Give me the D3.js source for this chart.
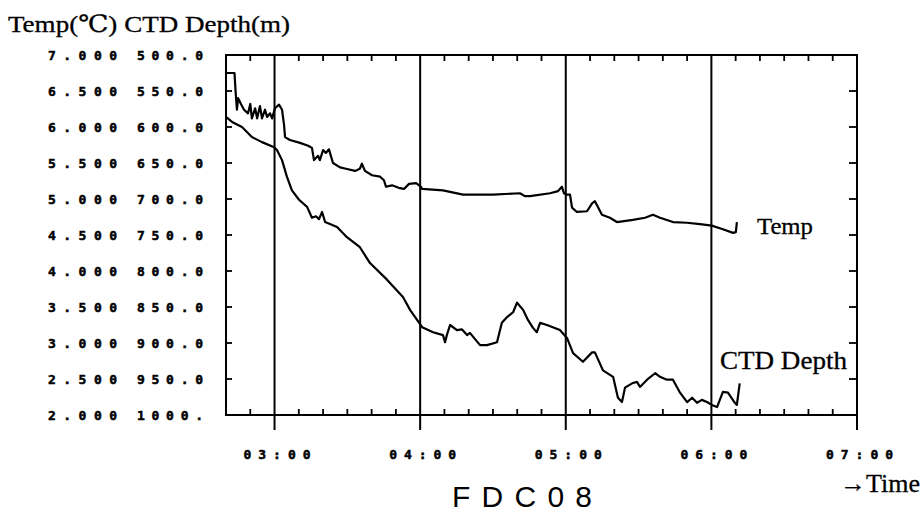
<!DOCTYPE html>
<html>
<head>
<meta charset="utf-8">
<script src="https://cdn.jsdelivr.net/npm/d3@7"></script>
<style>
  body { margin: 0; background: #fff; }
  .dot { font-family: "DejaVu Sans Mono", monospace; font-weight: bold; font-size: 13px; fill: #000; stroke: #000; stroke-width: 0.5px; }
  .serif { font-family: "Liberation Serif", "DejaVu Serif", serif; fill: #000; stroke: #000; stroke-width: 0.3px; }
</style>
</head>
<body>
<svg id="chart" width="923" height="513"></svg>
<script>
// time of each reading (hh:mm:ss) and values
const tempTime = ["02:40:00","02:43:30","02:44:00","02:44:30","02:45:00","02:46:10","02:47:25","02:49:05","02:50:00","02:50:40",
  "02:52:00","02:52:50","02:54:00","02:54:50","02:56:05","02:56:55","02:58:10","02:59:00","03:00:10","03:01:50",
  "03:03:05","03:03:55","03:04:20","03:06:20","03:10:30","03:13:50","03:15:25","03:16:15","03:17:55","03:18:40",
  "03:20:00","03:21:10","03:22:25","03:24:05","03:27:00","03:29:25","03:33:10","03:35:10","03:36:00","03:37:15",
  "03:40:10","03:43:30","03:45:05","03:45:55","03:48:25","03:51:40","03:53:20","03:55:25","03:58:20","04:00:20",
  "04:00:50","04:09:25","04:17:40","04:30:00","04:41:05","04:43:10","04:45:15","04:53:30","04:56:50","04:58:25",
  "04:59:15","05:00:30","05:01:45","05:02:35","05:04:35","05:08:45","05:10:50","05:12:00","05:13:15","05:14:55",
  "05:18:10","05:21:05","05:27:40","05:32:40","05:35:55","05:38:50","05:44:10","05:49:55","05:55:20","06:00:10",
  "06:04:45","06:08:55","06:10:05","06:10:30"];
const tempValue = [6.75,6.75,6.47,6.24,6.40,6.32,6.24,6.19,6.32,6.12,
  6.26,6.12,6.29,6.12,6.24,6.14,6.19,6.12,6.26,6.31,
  6.24,6.03,5.86,5.82,5.78,5.74,5.71,5.54,5.60,5.54,
  5.68,5.64,5.69,5.50,5.44,5.42,5.39,5.42,5.49,5.39,
  5.33,5.31,5.26,5.17,5.19,5.15,5.14,5.21,5.22,5.17,
  5.14,5.12,5.06,5.06,5.08,5.04,5.04,5.08,5.11,5.17,
  5.08,5.06,5.06,4.88,4.82,4.83,4.94,4.97,4.89,4.78,
  4.74,4.68,4.71,4.74,4.78,4.74,4.68,4.67,4.65,4.63,
  4.58,4.53,4.54,4.68];

const depthTime = ["02:40:00","02:42:30","02:46:35","02:50:40","02:54:50","02:59:50","03:01:00","03:03:05","03:05:05","03:07:10",
  "03:10:05","03:13:25","03:15:25","03:17:05","03:18:20","03:19:35","03:20:50","03:25:45","03:29:50","03:35:10",
  "03:39:20","03:46:20","03:52:55","03:55:50","04:00:50","04:05:20","04:09:25","04:10:15","04:11:05","04:12:20",
  "04:15:10","04:17:10","04:19:20","04:20:30","04:24:40","04:27:30","04:31:40","04:33:40","04:35:50","04:38:20",
  "04:39:55","04:42:25","04:44:25","04:46:30","04:48:05","04:49:25","04:52:15","04:54:40","04:57:35","05:00:30",
  "05:03:00","05:07:05","05:10:50","05:12:00","05:15:20","05:19:30","05:21:30","05:23:10","05:24:25","05:27:20",
  "05:29:20","05:30:35","05:33:30","05:36:50","05:38:50","05:41:40","05:44:10","05:47:05","05:50:00","05:52:05",
  "05:54:05","05:56:05","05:58:10","06:00:10","06:02:20","06:04:45","06:06:50","06:09:40","06:10:30","06:11:40"];
const depthValue = [586,593,600,614,621,628,632,646,669,688,
  701,711,726,724,728,718,732,739,753,767,
  789,812,836,854,878,885,889,899,888,875,
  882,881,889,886,903,903,899,872,864,857,
  844,854,868,879,885,872,875,878,882,893,
  914,926,913,913,938,947,976,982,962,956,
  954,961,951,942,947,951,951,969,982,976,
  983,979,982,986,989,968,969,983,986,956];

const tempTicks = [7.0, 6.5, 6.0, 5.5, 5.0, 4.5, 4.0, 3.5, 3.0, 2.5, 2.0];
const depthTicks = [500, 550, 600, 650, 700, 750, 800, 850, 900, 950, 1000];
const hourTicks = ["03:00", "04:00", "05:00", "06:00", "07:00"];

const parseTime = d3.timeParse("%H:%M:%S");
const parseHour = d3.timeParse("%H:%M");

const svg = d3.select("#chart");
const plotLeft = 226, plotRight = 857, plotTop = 55, plotBottom = 415;

const x = d3.scaleTime().domain([parseHour("02:40"), parseHour("07:00")]).range([plotLeft, plotRight]);
const yTemp = d3.scaleLinear().domain([2, 7]).range([plotBottom, plotTop]);
const yDepth = d3.scaleLinear().domain([500, 1000]).range([plotTop, plotBottom]);

// title
svg.append("text").attr("class", "serif").attr("x", 8).attr("y", 32)
    .attr("font-size", 24).attr("textLength", 282).attr("lengthAdjust", "spacingAndGlyphs")
    .text("Temp(℃) CTD Depth(m)");

// y labels, two columns
tempTicks.forEach((v, i) => {
    svg.append("text").attr("class", "dot").attr("x", 48).attr("y", yTemp(v))
        .attr("dy", "0.35em").attr("textLength", 69).attr("lengthAdjust", "spacing")
        .text(v.toFixed(3));
    const d = depthTicks[i];
    svg.append("text").attr("class", "dot").attr("x", 137).attr("y", yDepth(d))
        .attr("dy", "0.35em").attr("textLength", 66).attr("lengthAdjust", "spacing")
        .text(d >= 1000 ? d + "." : d.toFixed(1));
});

// minor ticks every 10 minutes on top and bottom
const minor = d3.timeMinute.every(10).range(parseHour("02:41"), parseHour("07:00"))
    .filter(t => t.getMinutes() !== 0);
minor.forEach(t => {
    svg.append("line").attr("x1", x(t)).attr("x2", x(t)).attr("y1", plotTop).attr("y2", plotTop + 6)
        .attr("stroke", "#000").attr("stroke-width", 1.8);
    svg.append("line").attr("x1", x(t)).attr("x2", x(t)).attr("y1", plotBottom).attr("y2", plotBottom - 6)
        .attr("stroke", "#000").attr("stroke-width", 1.8);
});

// left and right inward ticks
tempTicks.slice(1, -1).forEach(v => {
    svg.append("line").attr("x1", plotLeft).attr("x2", plotLeft + 6).attr("y1", yTemp(v)).attr("y2", yTemp(v))
        .attr("stroke", "#000").attr("stroke-width", 1.8);
    svg.append("line").attr("x1", plotRight).attr("x2", plotRight - 8).attr("y1", yTemp(v)).attr("y2", yTemp(v))
        .attr("stroke", "#000").attr("stroke-width", 1.8);
});

// hour lines, running below the frame
hourTicks.forEach(h => {
    const t = parseHour(h);
    svg.append("line").attr("x1", x(t)).attr("x2", x(t)).attr("y1", plotTop).attr("y2", plotBottom + 15)
        .attr("stroke", "#000").attr("stroke-width", 2);
    svg.append("text").attr("class", "dot").attr("x", x(t) - 31).attr("y", 459)
        .attr("textLength", 67).attr("lengthAdjust", "spacing").text(h);
});

// frame
svg.append("rect").attr("x", plotLeft).attr("y", plotTop).attr("width", plotRight - plotLeft).attr("height", plotBottom - plotTop)
    .attr("fill", "none").attr("stroke", "#000").attr("stroke-width", 2);

// series
const tempLine = d3.line().x((d, i) => x(parseTime(tempTime[i]))).y(d => yTemp(d));
const depthLine = d3.line().x((d, i) => x(parseTime(depthTime[i]))).y(d => yDepth(d));

svg.append("path").datum(tempValue).attr("d", tempLine)
    .attr("fill", "none").attr("stroke", "#000").attr("stroke-width", 2.2).attr("stroke-linejoin", "round");
svg.append("path").datum(depthValue).attr("d", depthLine)
    .attr("fill", "none").attr("stroke", "#000").attr("stroke-width", 2.2).attr("stroke-linejoin", "round");

// series labels
svg.append("text").attr("class", "serif").attr("x", 757).attr("y", 234)
    .attr("font-size", 24).attr("textLength", 56).attr("lengthAdjust", "spacingAndGlyphs").text("Temp");
svg.append("text").attr("class", "serif").attr("x", 720).attr("y", 369)
    .attr("font-size", 25).attr("textLength", 127).attr("lengthAdjust", "spacingAndGlyphs").text("CTD Depth");

// time arrow label
svg.append("text").attr("class", "serif").attr("x", 840).attr("y", 492)
    .attr("font-size", 25).attr("textLength", 80).attr("lengthAdjust", "spacingAndGlyphs").text("→Time");

// station name
svg.append("text").attr("x", 452).attr("y", 507)
    .attr("font-family", "Liberation Sans, Arial, sans-serif").attr("font-size", 30)
    .attr("textLength", 140).attr("lengthAdjust", "spacing").text("FDC08");
</script>
</body>
</html>
